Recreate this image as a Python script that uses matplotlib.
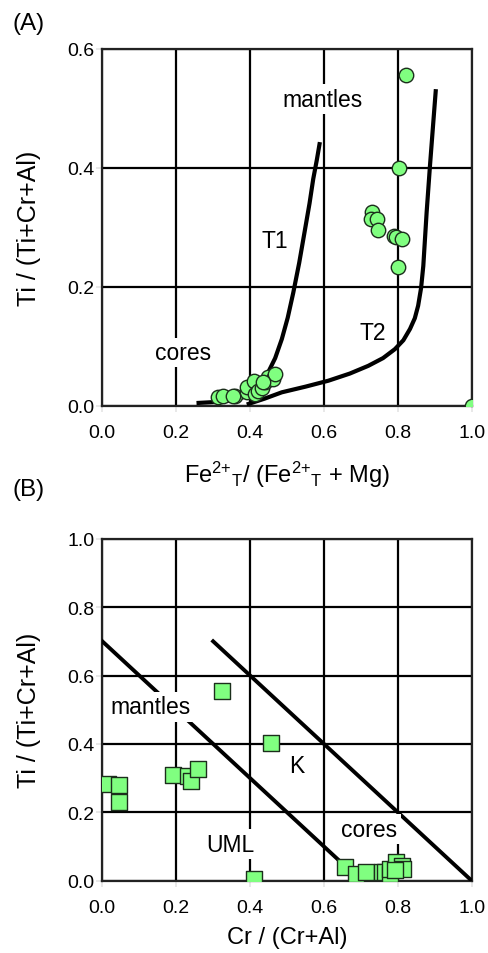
import matplotlib
matplotlib.use("Agg")
import matplotlib.pyplot as plt

plt.rcParams['font.family'] = ['Liberation Sans', 'DejaVu Sans']
plt.rcParams['mathtext.default'] = 'regular'

# ---- Panel A data ----
a_x = [0.822, 0.804, 0.729, 0.727, 0.743, 0.746, 0.790, 0.795, 0.810, 0.801, 1.000,
       0.314, 0.328, 0.359, 0.391, 0.391, 0.411, 0.413, 0.422, 0.431, 0.440, 0.449,
       0.463, 0.4675, 0.436, 0.355]
a_y = [0.555, 0.400, 0.326, 0.313, 0.314, 0.295, 0.286, 0.283, 0.281, 0.233, 0.000,
       0.015, 0.017, 0.016, 0.0225, 0.031, 0.042, 0.020, 0.025, 0.029, 0.039, 0.048,
       0.045, 0.053, 0.039, 0.017]

t1_x = [0.255, 0.300, 0.359, 0.390, 0.413, 0.432, 0.449, 0.468, 0.486, 0.502, 0.517,
        0.533, 0.549, 0.561, 0.571, 0.581, 0.589]
t1_y = [0.0045, 0.006, 0.010, 0.016, 0.025, 0.038, 0.056, 0.080, 0.112, 0.148, 0.190,
        0.240, 0.297, 0.340, 0.381, 0.414, 0.443]

t2_x = [0.391, 0.440, 0.486, 0.550, 0.612, 0.670, 0.720, 0.760, 0.792, 0.815, 0.833,
        0.846, 0.855, 0.863, 0.869, 0.878, 0.887, 0.896, 0.903]
t2_y = [0.002, 0.012, 0.0225, 0.032, 0.042, 0.054, 0.067, 0.080, 0.095, 0.110, 0.129,
        0.147, 0.168, 0.198, 0.235, 0.325, 0.403, 0.476, 0.532]

# ---- Panel B data ----
b_x = [0.016, 0.046, 0.045, 0.192, 0.233, 0.240, 0.260, 0.324, 0.458, 0.410,
       0.656, 0.688, 0.715, 0.756, 0.765, 0.780, 0.778, 0.796, 0.810, 0.815, 0.792]
b_y = [0.283, 0.280, 0.231, 0.309, 0.307, 0.292, 0.327, 0.555, 0.404, 0.005,
       0.041, 0.020, 0.025, 0.025, 0.025, 0.020, 0.035, 0.056, 0.044, 0.035, 0.030]

line1_x = [0.0, 0.70]
line1_y = [0.70, 0.0]
line2_x = [0.30, 1.0]
line2_y = [0.70, 0.0]

ticks = [0.0, 0.2, 0.4, 0.6, 0.8, 1.0]
a_yticks = [0.0, 0.2, 0.4, 0.6]

W, H = 488, 954
fig = plt.figure(figsize=(W / 100, H / 100), dpi=100)

green = '#80ff80'
edge = '#1c2e1c'
box = dict(facecolor='white', edgecolor='none', pad=2.5)
LBL = 16.5
AXL = 17


def style(ax):
    ax.set_xlim(0, 1)
    ax.set_xticks(ticks)
    ax.set_xticklabels([f'{t:.1f}' for t in ticks])
    ax.grid(True, color='black', linewidth=1.6, zorder=1)
    ax.set_axisbelow(True)
    for s in ax.spines.values():
        s.set_linewidth(1.6)
        s.set_color('#222222')
        s.set_zorder(2)
    ax.tick_params(direction='out', length=4, width=1.2, color='#e4e4e4',
                   labelsize=14)
    ax.tick_params(axis='x', pad=9)
    ax.tick_params(axis='y', pad=1.5)


# Panel A
axA = fig.add_axes([102.3 / W, 1 - 406.7 / H, 369.4 / W, (406.7 - 49.7) / H])
style(axA)
axA.set_ylim(0, 0.6)
axA.set_yticks(a_yticks)
axA.set_yticklabels([f'{t:.1f}' for t in a_yticks])
axA.plot(t1_x, t1_y, color='black', linewidth=3, zorder=3, solid_capstyle='butt')
axA.plot(t2_x, t2_y, color='black', linewidth=3, zorder=3, solid_capstyle='butt')
axA.scatter(a_x, a_y, s=108, marker='o', facecolor=green, edgecolor=edge,
            linewidth=1.0, zorder=4, clip_on=True)
axA.text(0.596, 0.504, 'mantles', fontsize=LBL, ha='center', va='baseline', bbox=box, zorder=5)
axA.text(0.218, 0.0785, 'cores', fontsize=LBL, ha='center', va='baseline', bbox=box, zorder=5)
axA.text(0.467, 0.266, 'T1', fontsize=LBL, ha='center', va='baseline', zorder=5)
axA.text(0.733, 0.112, 'T2', fontsize=LBL, ha='center', va='baseline', zorder=5)
axA.set_xlabel(r'Fe$^{2{+}}$$_{T}$/ (Fe$^{2{+}}$$_{T}$ + Mg)', fontsize=AXL)
axA.xaxis.set_label_coords(0.5, (406.7 - 460) / 357.0)
axA.xaxis.label.set_va('top')
axA.set_ylabel('Ti / (Ti+Cr+Al)', fontsize=18)
axA.yaxis.set_label_coords((41 - 102.3) / 369.4, 0.5)
fig.text(12 / W, 1 - 24 / H, '(A)', fontsize=17.5, va='center', ha='left')

# Panel B
axB = fig.add_axes([102.3 / W, 1 - 881.7 / H, 369.4 / W, (881.7 - 539.7) / H])
style(axB)
axB.set_ylim(0, 1)
axB.set_yticks(ticks)
axB.set_yticklabels([f'{t:.1f}' for t in ticks])
axB.plot(line1_x, line1_y, color='black', linewidth=2.8, zorder=3)
axB.plot(line2_x, line2_y, color='black', linewidth=2.8, zorder=3)
axB.scatter(b_x, b_y, s=118, marker='s', facecolor=green, edgecolor=edge,
            linewidth=1.0, zorder=4, clip_on=True)
axB.text(0.132, 0.49, 'mantles', fontsize=LBL, ha='center', va='baseline', bbox=box, zorder=5)
axB.text(0.722, 0.132, 'cores', fontsize=LBL, ha='center', va='baseline', bbox=box, zorder=5)
axB.text(0.348, 0.088, 'UML', fontsize=LBL, ha='center', va='baseline', bbox=box, zorder=5)
axB.text(0.527, 0.317, 'K', fontsize=LBL, ha='center', va='baseline', zorder=5)
axB.set_xlabel('Cr / (Cr+Al)', fontsize=AXL)
axB.xaxis.set_label_coords(0.5, (881.7 - 927) / 342.0)
axB.xaxis.label.set_va('top')
axB.set_ylabel('Ti / (Ti+Cr+Al)', fontsize=18)
axB.yaxis.set_label_coords((41 - 102.3) / 369.4, 0.5)
fig.text(12 / W, 1 - 490 / H, '(B)', fontsize=17.5, va='center', ha='left')

fig.savefig('out.png', dpi=100)
